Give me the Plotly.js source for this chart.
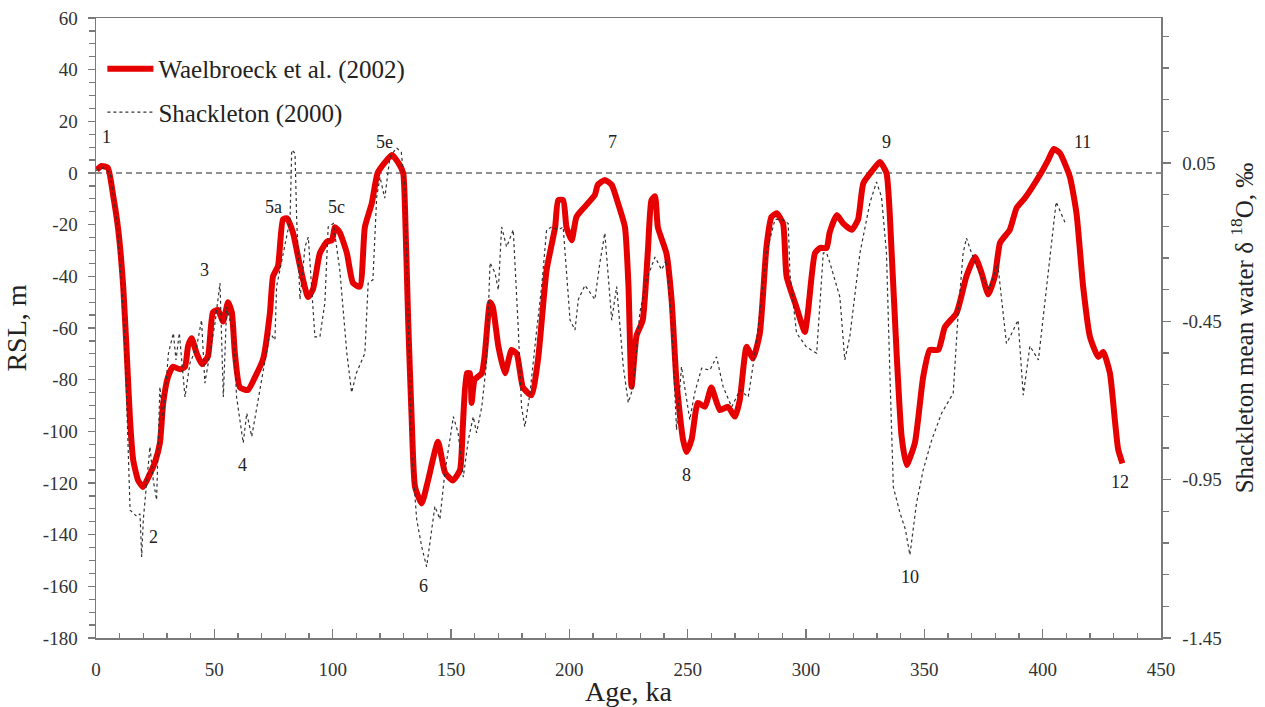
<!DOCTYPE html>
<html>
<head>
<meta charset="utf-8">
<script src="https://cdn.plot.ly/plotly-3.0.1.min.js"></script>
<style>html,body{margin:0;padding:0;background:#fff;}#chart{width:1265px;height:707px;}</style>
</head>
<body>
<div id="chart"></div>
<script>
// Waelbroeck et al. (2002) relative sea level, m
const waelAge = [0.3,2.4,5,7.3,9.4,11.5,13,14.4,15.7,17.8,19.9,22,24.9,27,28.4,30.4,32.5,35.5,37.6,38.9,40.4,42.6,44.8,47.3,49.4,51.5,53.7,55.8,57.4,58.7,60.8,64.2,67.2,70.6,73.5,74.8,76.9,79,80.7,83.2,86.2,89.6,91.7,94.6,97.6,99.7,101,103,106,108.6,111.5,113.6,116.5,119,122,125,127.7,129.8,130.5,131.9,133.4,134.8,137.6,140.3,144.5,147.5,150.8,153.8,155,156.7,158,158.7,160,163,164.3,166.5,167.7,170,172.8,175.6,177.8,180.4,184,186.8,190.4,194,195.3,197.4,198.8,201,203,206.6,210.8,212,215,217.9,220.6,223.5,225,226.3,228.4,231,233.2,234.7,236.2,237.4,241,243.2,245.3,248,249.5,251.7,254.3,257.3,260,263.6,267,270,272,274.9,277.6,280.5,283.3,285.4,287.6,290.3,291.8,296,299.5,300.8,303.8,305.9,308.7,310,313,315.7,319.3,322,324.2,327.7,331.2,334,336.2,338.3,340.4,342.5,346,349.5,352.3,355.9,358.7,363.6,367.8,371.4,374.2,377,379.8,382,386.1,389,392.5,398.8,402.3,404.7,407.3,411.5,414.3,417.1,420,423.5,425.6,428.4,430.5,431.9,433.7];
const waelRSL = [1.2,2.7,2,-9,-22,-44,-70,-96,-111,-119,-121.5,-118,-112,-104.5,-89,-79,-75,-76,-75,-67,-64,-70,-74,-71,-54,-53,-57.5,-50,-54,-70,-83,-84,-79,-72,-54,-40,-36,-18,-17.5,-23,-36,-48,-45,-31,-26.6,-26,-21,-23,-31,-42.6,-44,-21,-11.8,0,4,7,4,0,-11.8,-57,-95.6,-121.5,-127.9,-119,-104,-116,-119,-115,-98,-77.5,-77.5,-89,-80,-77.5,-70,-50,-52,-67,-77.5,-68.5,-70,-83,-86,-72,-37.5,-21,-10.5,-10.5,-21,-26,-17,-13,-8.5,-4.6,-2.7,-4.6,-11.8,-21,-44,-82.7,-63,-57,-30,-10.5,-9,-21,-31,-49,-81,-103,-108,-103,-89,-90.5,-83,-91.8,-90.5,-94.3,-88,-67.3,-71.8,-62,-28.6,-17,-15.6,-19.5,-40,-52,-61.5,-54,-31,-29,-29,-23,-16.3,-19.5,-22,-18,-4,0.5,4.3,0,-31,-70,-102,-113,-104.5,-79,-68.5,-68.5,-59.6,-54.2,-40,-32.5,-38.7,-47,-40,-27,-22,-13.5,-9.7,-0.8,5,9.3,7.7,-1.5,-15.6,-44,-63.5,-71.2,-69.3,-77.4,-95.6,-107,-112.4];

// Shackleton (2000) mean water d18O, per mil
const shackAge = [0,3,6,9,12,13.5,14.4,17.2,18.6,19.3,20,21.4,22.8,24.2,25.6,27,28.4,30.6,32.7,33.8,35.2,37.6,39.7,42.5,44.6,46,48.2,50.3,52.4,53.8,55.2,56.6,58,59.4,62.2,63.7,65.8,67.9,70,73.5,75.6,76.3,79.1,82,82.7,84.1,84.8,86.2,88.3,89.7,92.5,94.6,96.7,98.1,100.3,103,106,108,110,113.6,115,117,118.6,120,122,124.2,127,129,130.5,132,133.4,135.5,137.6,139.7,141.8,143.2,145.3,147.4,151,153,155.2,157.3,159.4,160.8,163,165,166.5,168.6,170,171.4,173.5,176.3,178.4,179.8,181.2,183.4,186.2,188.3,190.4,192.5,195.3,197.4,200.3,202.4,203.8,206.6,210.8,212.9,215,217.9,220,222.8,224.9,227,229.8,232.6,236.2,239,241,243.2,245.3,247.4,250.9,253,255.9,259.4,262.2,265,268.6,272.1,275.6,278.4,280.5,283.3,286.9,289.7,292.5,293.2,296,300.2,304.5,307.3,308.7,310.1,314.3,316.4,318.5,322.8,327,329.8,331.9,334,335.4,336.9,339.7,342,343.9,346.7,349.5,353.1,357.3,362.2,364.3,366.4,367.8,369.9,374,377.5,381,384.7,387,389.6,391.8,394.6,398.2,401.7,405.7,409.4];
const shackD18O = [0.027,0.035,0.018,-0.145,-0.471,-0.797,-1.046,-1.066,-1.058,-1.194,-1.075,-0.960,-0.846,-0.952,-1.014,-0.657,-0.761,-0.551,-0.487,-0.572,-0.487,-0.689,-0.582,-0.531,-0.446,-0.645,-0.551,-0.455,-0.329,-0.689,-0.405,-0.446,-0.477,-0.689,-0.834,-0.740,-0.814,-0.730,-0.634,-0.487,-0.509,-0.340,-0.234,-0.128,0.091,0.081,-0.128,-0.381,-0.215,-0.184,-0.499,-0.499,-0.392,-0.152,-0.141,-0.287,-0.551,-0.675,-0.614,-0.551,-0.329,-0.319,-0.057,0.006,-0.061,0.069,0.098,0.084,-0.025,-0.430,-0.866,-1.075,-1.161,-1.225,-1.107,-1.034,-1.075,-0.928,-0.751,-0.802,-0.942,-0.825,-0.751,-0.802,-0.720,-0.582,-0.265,-0.297,-0.351,-0.152,-0.215,-0.161,-0.468,-0.720,-0.783,-0.675,-0.477,-0.340,-0.161,-0.152,-0.161,-0.152,-0.446,-0.477,-0.381,-0.336,-0.381,-0.265,-0.171,-0.446,-0.340,-0.593,-0.707,-0.657,-0.422,-0.319,-0.247,-0.287,-0.256,-0.446,-0.793,-0.593,-0.761,-0.675,-0.598,-0.604,-0.562,-0.657,-0.720,-0.667,-0.689,-0.551,-0.424,-0.234,-0.128,-0.128,-0.141,-0.297,-0.487,-0.531,-0.551,-0.234,-0.234,-0.265,-0.373,-0.572,-0.499,-0.234,-0.076,-0.010,-0.057,-0.234,-0.604,-0.973,-1.055,-1.107,-1.188,-1.024,-0.920,-0.825,-0.740,-0.677,-0.424,-0.234,-0.187,-0.234,-0.308,-0.349,-0.267,-0.520,-0.487,-0.446,-0.683,-0.528,-0.572,-0.340,-0.073,-0.137];

// Marine isotope stage labels
const stageLabels = ["1","2","3","4","5a","5c","5e","6","7","8","9","10","11","12"];
const stageAge = [4.6,24.1,46,62.1,74.8,101.8,121.7,138.2,218.4,249.3,334.2,343.9,417,432.6];
const stageRSL = [14,-141,-37.5,-113,-13.2,-13.2,12,-160,12,-117,12,-156.4,12,-119.6];

// Axis tick labels
const rslTicks = [-180,-160,-140,-120,-100,-80,-60,-40,-20,0,20,40,60];
const rslTickText = ["-180","-160","-140","-120","-100","-80","-60","-40","-20","0","20","40","60"];
const d18OTicks = [0.05,-0.45,-0.95,-1.45];
const d18OTickText = ["0.05","-0.45","-0.95","-1.45"];

const serif = "Liberation Serif, Times New Roman, serif";
const axisCol = "#7a7a7a";

const traces = [
  {
    x: waelAge, y: waelRSL, type: "scatter", mode: "lines",
    name: "Waelbroeck et al. (2002)", legendgroup: "a",
    line: {color: "#e60000", width: 6, shape: "spline", smoothing: 0.5},
    yaxis: "y"
  },
  {
    x: shackAge, y: shackD18O, type: "scatter", mode: "lines",
    name: "Shackleton (2000)", legendgroup: "b",
    line: {color: "#333333", width: 1.2, dash: "dot"},
    yaxis: "y2"
  }
];

const annotations = stageLabels.map((t, i) => ({
  x: stageAge[i], y: stageRSL[i], xref: "x", yref: "y", text: t,
  showarrow: false, font: {family: serif, size: 18, color: "#222"}
}));

const minorD18O = [0.45,0.35,0.25,0.15,-0.05,-0.15,-0.25,-0.35,-0.55,-0.65,-0.75,-0.85,-1.05,-1.15,-1.25,-1.35];

const layout = {
  width: 1265, height: 707,
  margin: {l: 96, r: 104, t: 18, b: 69},
  paper_bgcolor: "#fff", plot_bgcolor: "#fff",
  font: {family: serif, color: "#333"},
  showlegend: true,
  legend: {
    x: 0.006, y: 0.955, xanchor: "left", yanchor: "top",
    font: {family: serif, size: 25, color: "#222"},
    bgcolor: "rgba(0,0,0,0)", itemwidth: 46,
    traceorder: "grouped", tracegroupgap: 8
  },
  xaxis: {
    range: [0, 450], dtick: 50, tick0: 0,
    ticks: "inside", ticklen: 9, tickwidth: 1.5, tickcolor: axisCol,
    minor: {dtick: 10, ticks: "inside", ticklen: 5, tickwidth: 1.2, tickcolor: axisCol},
    showline: true, linecolor: axisCol, linewidth: 1.5, mirror: true,
    showgrid: false, zeroline: false,
    tickfont: {family: serif, size: 19, color: "#333"},
    ticklabelstandoff: 14,
    title: {text: "Age, ka", font: {family: serif, size: 28, color: "#222"}, standoff: 4}
  },
  yaxis: {
    range: [-180, 60], tickvals: rslTicks, ticktext: rslTickText,
    ticks: "outside", ticklen: 7, tickwidth: 1.5, tickcolor: axisCol,
    minor: {dtick: 5, tick0: 0, ticks: "outside", ticklen: 6, tickwidth: 1.2, tickcolor: axisCol},
    showline: true, linecolor: axisCol, linewidth: 1.5,
    showgrid: false, zeroline: false,
    tickfont: {family: serif, size: 19, color: "#333"},
    ticklabelstandoff: 6,
    title: {text: "RSL, m", font: {family: serif, size: 28, color: "#222"}, standoff: 8}
  },
  yaxis2: {
    overlaying: "y", side: "right", anchor: "x",
    range: [-1.45, 0.508], tickvals: d18OTicks, ticktext: d18OTickText,
    ticks: "outside", ticklen: 8, tickwidth: 1.5, tickcolor: axisCol,
    minor: {tickvals: minorD18O, ticks: "outside", ticklen: 6, tickwidth: 1.2, tickcolor: axisCol},
    showline: true, linecolor: axisCol, linewidth: 1.5,
    showgrid: false, zeroline: false,
    tickfont: {family: serif, size: 19, color: "#333"},
    ticklabelstandoff: 8,
    title: {text: "Shackleton mean water \u03b4 <sup>18</sup>O, \u2030", font: {family: serif, size: 25, color: "#222"}, standoff: 14}
  },
  shapes: [
    {type: "line", xref: "paper", x0: 0, x1: 1, yref: "y", y0: 0, y1: 0,
     line: {color: "#222", width: 1.2, dash: "6px,4px"}, layer: "below"}
  ],
  annotations: annotations
};

Plotly.newPlot("chart", traces, layout, {displayModeBar: false, staticPlot: true});
</script>
</body>
</html>
